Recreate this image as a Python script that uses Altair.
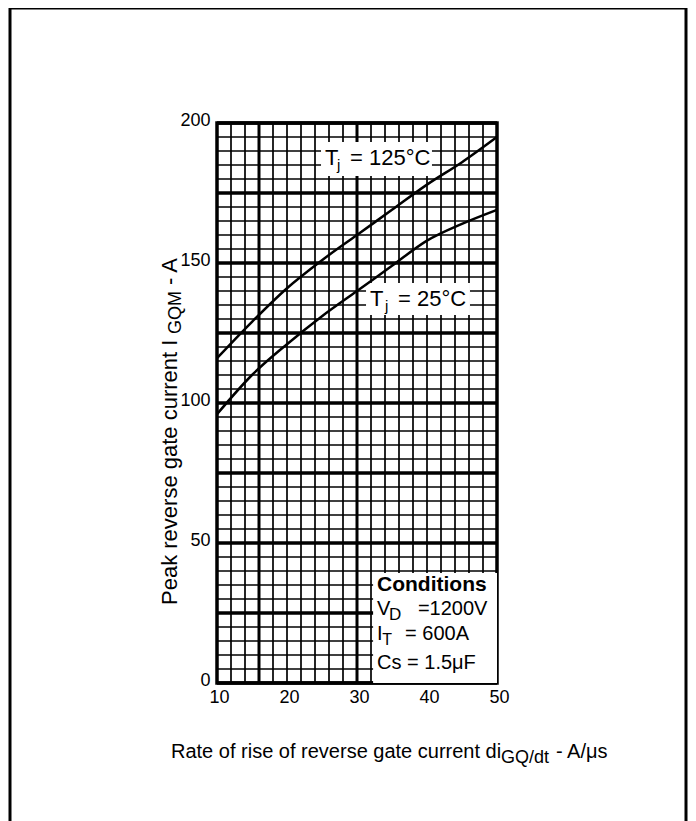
import altair as alt
import pandas as pd

# ---- data ----
x_vals = [10, 15, 20, 25, 30, 35, 40, 45, 50]
tj125 = [116, 129, 141, 151, 160, 169, 178, 186, 195]
tj25 = [96, 110, 121, 131, 140, 149, 158, 164, 169]

x_ticks = [10, 20, 30, 40, 50]
y_ticks = [0, 50, 100, 150, 200]
x_minor = list(range(10, 51, 2))
x_heavy = [16, 30]
y_minor = list(range(0, 201, 5))
y_major = list(range(0, 201, 25))

FONT = "Liberation Sans"

xs = alt.Scale(domain=[10, 50], nice=False, zero=False)
ys = alt.Scale(domain=[0, 200], nice=False, zero=False)

xaxis = alt.Axis(values=x_ticks, title=None, grid=False, domain=False, ticks=False,
                 tickSize=0, labelPadding=5, labelOffset=2, labelFlush=False, labelFontSize=18,
                 labelFont=FONT, labelColor="black")
yaxis = alt.Axis(values=y_ticks, title=None, grid=False, domain=False, ticks=False,
                 tickSize=0, labelPadding=7, labelOffset=-3, labelFlush=False, labelFontSize=18,
                 labelFont=FONT, labelColor="black")


def X(f="x"):
    return alt.X(f"{f}:Q", scale=xs, axis=xaxis)


def Y(f="y"):
    return alt.Y(f"{f}:Q", scale=ys, axis=yaxis)


one = pd.DataFrame({"k": [0]})

# grid
vgrid = alt.Chart(pd.DataFrame({"x": x_minor})).mark_rule(color="black", strokeWidth=1.7).encode(x=X())
vheavy = alt.Chart(pd.DataFrame({"x": x_heavy})).mark_rule(color="black", strokeWidth=3).encode(x=X())
hgrid = alt.Chart(pd.DataFrame({"y": y_minor})).mark_rule(color="black", strokeWidth=1.7).encode(y=Y())
hmajor = alt.Chart(pd.DataFrame({"y": y_major})).mark_rule(color="black", strokeWidth=3.3).encode(y=Y())

# white label boxes
boxes = pd.DataFrame({
    "x": [24.86, 31.29, 32.3],
    "x2": [40.71, 46.14, 50.0],
    "y": [193.2, 142.9, 39.3],
    "y2": [181.1, 131.4, 0.0],
})
box_layer = alt.Chart(boxes).mark_rect(color="white").encode(
    x=X(), x2="x2:Q", y=Y(), y2="y2:Q")

# annotation texts
lab = pd.DataFrame({
    "text": ["T", "j", "= 125°C",
             "T", "j", "= 25°C",
             "V", "D", "=1200V",
             "I", "T", "= 600A",
             "Cs = 1.5μF"],
    "x": [25.43, 27.14, 29.0,
          31.86, 34.0, 35.86,
          32.86, 34.57, 38.7,
          32.86, 33.6, 36.86,
          32.86],
    "y": [185.0, 183.2, 185.0,
          134.6, 132.9, 134.6,
          24.3, 22.5, 24.3,
          15.4, 13.6, 15.4,
          5.0],
    "size": [22, 15, 22,
             22, 15, 22,
             20, 17, 20,
             20, 16, 20,
             20],
})
lab_layer = alt.Chart(lab).mark_text(align="left", baseline="alphabetic", font=FONT, color="black").encode(
    x=X(), y=Y(), text="text:N", size=alt.Size("size:Q", scale=None, legend=None))

cond = pd.DataFrame({"text": ["Conditions"], "x": [32.86], "y": [32.9]})
cond_layer = alt.Chart(cond).mark_text(align="left", baseline="alphabetic", font=FONT,
                                       fontWeight="bold", fontSize=21, color="black").encode(
    x=X(), y=Y(), text="text:N")

# curves
curves = pd.DataFrame({
    "x": x_vals * 2,
    "y": tj125 + tj25,
    "series": ["Tj = 125°C"] * len(x_vals) + ["Tj = 25°C"] * len(x_vals),
})
curve_layer = alt.Chart(curves).mark_line(color="black", strokeWidth=2.5, interpolate="monotone").encode(
    x=X(), y=Y(), detail="series:N")

# axis titles (with subscripts) and page frame
def txt(s, px, py, size, angle=0):
    kw = dict(text=s, align="left", baseline="alphabetic", font=FONT, fontSize=size, color="black")
    if angle:
        kw["angle"] = angle
    return alt.Chart(one).mark_text(**kw).encode(x=alt.value(px), y=alt.value(py))

ytitle = [
    txt("Peak reverse gate current I", -40, 482, 22, 270),
    txt("GQM", -36, 211, 18, 270),
    txt("- A", -40, 162, 22, 270),
]
xtitle = [
    txt("Rate of rise of reverse gate current di", -46, 635, 20),
    txt("GQ/dt", 284, 640, 18),
    txt("- A/μs", 339, 635, 20),
]

frame = alt.Chart(one).mark_rect(fill="white", fillOpacity=0, stroke="black", strokeWidth=3).encode(
    x=alt.value(-207), x2=alt.value(469), y=alt.value(-115), y2=alt.value(712))

chart = alt.layer(
    vgrid, vheavy, hgrid, hmajor, box_layer, lab_layer, cond_layer, curve_layer,
    *ytitle, *xtitle, frame
).properties(
    width=280, height=560, autosize="none",
    padding={"left": 209, "top": 115, "right": 191, "bottom": 138},
).configure_view(stroke="black", strokeWidth=3.5)

chart.save("out.html", embed_options={"renderer": "svg", "actions": False})
